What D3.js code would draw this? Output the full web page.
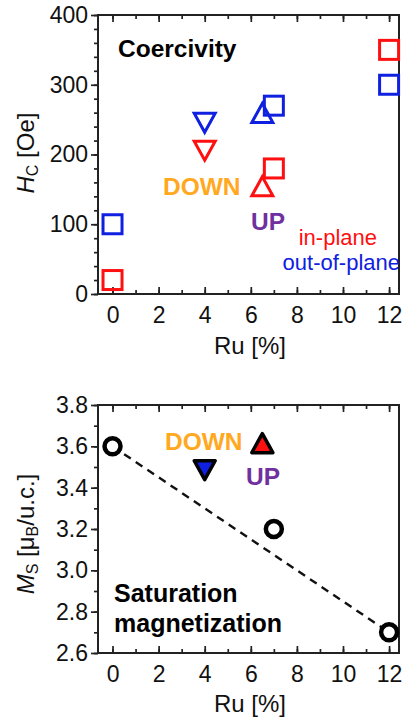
<!DOCTYPE html>
<html>
<head>
<meta charset="utf-8">
<script src="https://cdn.jsdelivr.net/npm/d3@7"></script>
<style>
  body { margin: 0; background: #fff; }
  svg { display: block; font-family: "Liberation Sans", Arial, sans-serif; }
</style>
</head>
<body>
<svg id="chart" width="402" height="721"></svg>
<script>
// top panel: coercivity
var ruSquares = [0, 7, 12];
var hcInPlane = [20, 180, 350];
var hcOutOfPlane = [100, 270, 300];
var ruTri = [4, 6.5];
var triDir = ['down', 'up'];
var hcTriInPlane = [210, 150];
var hcTriOutOfPlane = [250, 255];

// bottom panel: saturation magnetization
var ruMs = [0, 7, 12];
var ms = [3.6, 3.2, 2.7];
var msTri = [3.5, 3.6];
var fitRu = [0, 12];
var fitMs = [3.6, 2.7];

var xTicks = [0, 2, 4, 6, 8, 10, 12];
var hcTicks = [0, 100, 200, 300, 400];
var msTicks = [2.6, 2.8, 3.0, 3.2, 3.4, 3.6, 3.8];

var RED = '#ff1010', BLUE = '#1020e0', ORANGE = '#ffa820', PURPLE = '#7030a0';

var svg = d3.select('#chart');

function triPath(cx, cy, dir, w, h) {
  // centroid-centred triangle
  var s = dir === 'up' ? 1 : -1;
  return 'M' + cx + ',' + (cy - s * 2 * h / 3) +
    'L' + (cx + w / 2) + ',' + (cy + s * h / 3) +
    'L' + (cx - w / 2) + ',' + (cy + s * h / 3) + 'Z';
}

function frame(g, x, y, yTicks, yMinor, fmt) {
  var x0 = x.range()[0], x1 = x.range()[1], y0 = y.range()[0], y1 = y.range()[1];

  g.append('g').attr('transform', 'translate(0,' + y0 + ')')
    .call(d3.axisBottom(x).tickValues(d3.range(0, 13, 1)).tickSize(-4).tickFormat(''));
  g.append('g').attr('transform', 'translate(0,' + y0 + ')')
    .call(d3.axisBottom(x).tickValues(xTicks).tickSize(-7).tickPadding(13).tickFormat(d3.format('d')));
  g.append('g').attr('transform', 'translate(0,' + y1 + ')')
    .call(d3.axisTop(x).tickValues(d3.range(0, 13, 1)).tickSize(-4).tickFormat(''));
  g.append('g').attr('transform', 'translate(0,' + y1 + ')')
    .call(d3.axisTop(x).tickValues(xTicks).tickSize(-7).tickFormat(''));
  g.append('g').attr('transform', 'translate(' + x0 + ',0)')
    .call(d3.axisLeft(y).tickValues(yMinor).tickSize(4).tickFormat(''));
  g.append('g').attr('transform', 'translate(' + x0 + ',0)')
    .call(d3.axisLeft(y).tickValues(yTicks).tickSize(7).tickPadding(3).tickFormat(fmt));

  g.selectAll('.domain').remove();
  g.selectAll('.tick line').attr('stroke', '#222').attr('stroke-width', 1.7);
  g.selectAll('.tick text').attr('font-size', 23).attr('fill', '#111')
    .attr('font-family', '"Liberation Sans", Arial, sans-serif');

  g.append('rect').attr('x', x0).attr('y', y1).attr('width', x1 - x0).attr('height', y0 - y1)
    .attr('fill', 'none').attr('stroke', '#222').attr('stroke-width', 2);
}

// ---------- top ----------
var x = d3.scaleLinear().domain([-0.63, 12.43]).range([98, 399]);
var yH = d3.scaleLinear().domain([0, 400]).range([294, 15]);

var topG = svg.append('g');
frame(topG, x, yH, hcTicks, d3.range(0, 401, 20), d3.format('d'));

topG.append('text').attr('x', 118).attr('y', 57).attr('font-size', 24.5).attr('font-weight', 'bold')
  .text('Coercivity');

var sq = 19;
topG.selectAll('rect.ip').data(ruSquares).enter().append('rect')
  .attr('x', function(d) { return x(d) - sq / 2; })
  .attr('y', function(d, i) { return yH(hcInPlane[i]) - sq / 2; })
  .attr('width', sq).attr('height', sq)
  .attr('fill', 'none').attr('stroke', RED).attr('stroke-width', 3);
topG.selectAll('rect.oop').data(ruSquares).enter().append('rect')
  .attr('x', function(d) { return x(d) - sq / 2; })
  .attr('y', function(d, i) { return yH(hcOutOfPlane[i]) - sq / 2; })
  .attr('width', sq).attr('height', sq)
  .attr('fill', 'none').attr('stroke', BLUE).attr('stroke-width', 3);

topG.selectAll('path.tip').data(ruTri).enter().append('path')
  .attr('d', function(d, i) { return triPath(x(d), yH(hcTriInPlane[i]), triDir[i], 21, 19); })
  .attr('fill', 'none').attr('stroke', RED).attr('stroke-width', 3).attr('stroke-linejoin', 'miter');
topG.selectAll('path.toop').data(ruTri).enter().append('path')
  .attr('d', function(d, i) { return triPath(x(d), yH(hcTriOutOfPlane[i]), triDir[i], 21, 19); })
  .attr('fill', 'none').attr('stroke', BLUE).attr('stroke-width', 3).attr('stroke-linejoin', 'miter');

topG.append('text').attr('x', 163).attr('y', 195).attr('font-size', 24.5).attr('font-weight', 'bold')
  .attr('fill', ORANGE).text('DOWN');
topG.append('text').attr('x', 251).attr('y', 230).attr('font-size', 24.5).attr('font-weight', 'bold')
  .attr('fill', PURPLE).text('UP');
topG.append('text').attr('x', 377).attr('y', 245).attr('font-size', 22).attr('text-anchor', 'end')
  .attr('fill', RED).text('in-plane');
topG.append('text').attr('x', 400).attr('y', 270).attr('font-size', 22).attr('text-anchor', 'end')
  .attr('fill', BLUE).text('out-of-plane');

topG.append('text').attr('x', 250).attr('y', 354).attr('font-size', 24).attr('text-anchor', 'middle')
  .attr('fill', '#111').text('Ru [%]');
var hl = topG.append('text').attr('transform', 'translate(34,153) rotate(-90)')
  .attr('font-size', 24).attr('text-anchor', 'middle').attr('fill', '#111');
hl.append('tspan').attr('font-style', 'italic').text('H');
hl.append('tspan').attr('font-size', 16).attr('dy', 4).text('C');
hl.append('tspan').attr('dy', -4).text(' [Oe]');

// ---------- bottom ----------
var yM = d3.scaleLinear().domain([2.6, 3.8]).range([653, 405]);
var botG = svg.append('g');
frame(botG, x, yM, msTicks, d3.range(26, 39, 1).map(function(v) { return v / 10; }), d3.format('.1f'));

botG.append('path')
  .attr('d', d3.line().x(function(d) { return x(d); }).y(function(d, i) { return yM(fitMs[i]); })(fitRu))
  .attr('fill', 'none').attr('stroke', '#111').attr('stroke-width', 2.4).attr('stroke-dasharray', '8,6');

botG.selectAll('circle').data(ruMs).enter().append('circle')
  .attr('cx', function(d) { return x(d); })
  .attr('cy', function(d, i) { return yM(ms[i]); })
  .attr('r', 8).attr('fill', '#fff').attr('stroke', '#000').attr('stroke-width', 4.5);

botG.selectAll('path.mt').data(ruTri).enter().append('path')
  .attr('d', function(d, i) { return triPath(x(d), yM(msTri[i]), triDir[i], 21, 19); })
  .attr('fill', function(d, i) { return triDir[i] === 'down' ? BLUE : RED; })
  .attr('stroke', '#000').attr('stroke-width', 3.5).attr('stroke-linejoin', 'round');

botG.append('text').attr('x', 165).attr('y', 450).attr('font-size', 24.5).attr('font-weight', 'bold')
  .attr('fill', ORANGE).text('DOWN');
botG.append('text').attr('x', 246).attr('y', 485).attr('font-size', 24.5).attr('font-weight', 'bold')
  .attr('fill', PURPLE).text('UP');
botG.append('text').attr('x', 114).attr('y', 602).attr('font-size', 25).attr('font-weight', 'bold')
  .text('Saturation');
botG.append('text').attr('x', 114).attr('y', 632).attr('font-size', 25).attr('font-weight', 'bold')
  .text('magnetization');

botG.append('text').attr('x', 250).attr('y', 712).attr('font-size', 24).attr('text-anchor', 'middle')
  .attr('fill', '#111').text('Ru [%]');
var ml = botG.append('text').attr('transform', 'translate(34,534) rotate(-90)')
  .attr('font-size', 24).attr('text-anchor', 'middle').attr('fill', '#111');
ml.append('tspan').attr('font-style', 'italic').text('M');
ml.append('tspan').attr('font-size', 16).attr('dy', 4).text('S');
ml.append('tspan').attr('dy', -4).text(' [\u03bc');
ml.append('tspan').attr('font-size', 16).attr('dy', 4).text('B');
ml.append('tspan').attr('dy', -4).text('/u.c.]');
</script>
</body>
</html>
